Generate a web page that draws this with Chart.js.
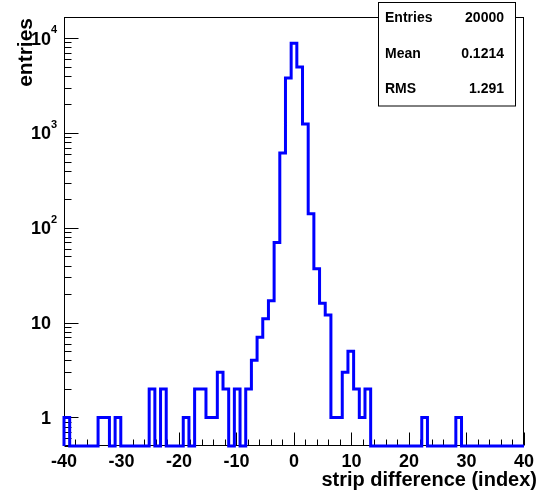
<!DOCTYPE html>
<html><head><meta charset="utf-8">
<script src="https://cdn.jsdelivr.net/npm/chart.js@4/dist/chart.umd.min.js"></script>
<style>html,body{margin:0;padding:0;background:#fff;}#wrap{width:539px;height:493px;}</style>
</head><body><div id="wrap"><canvas id="c" width="539" height="493"></canvas></div>
<script>
// ---- data ----
const binCenters = [-40,-39,-38,-37,-36,-35,-34,-33,-32,-31,-30,-29,-28,-27,-26,-25,-24,-23,-22,-21,-20,-19,-18,-17,-16,-15,-14,-13,-12,-11,-10,-9,-8,-7,-6,-5,-4,-3,-2,-1,0,1,2,3,4,5,6,7,8,9,10,11,12,13,14,15,16,17,18,19,20,21,22,23,24,25,26,27,28,29,30,31,32,33,34,35,36,37,38,39,40];
const counts = [1,0,0,0,0,0,1,1,0,1,0,0,0,0,0,2,0,2,0,0,0,1,0,2,2,1,1,3,2,0,2,0,2,4,7,11,17,70,615,3800,8850,4950,1240,141,37,16,12,1,1,3,5,2,1,2,0,0,0,0,0,0,0,0,0,1,0,0,0,0,0,1,0,0,0,0,0,0,0,0,0,0,0];
const xTickValues = [-40,-30,-20,-10,0,10,20,30,40];
const yTickValues = [1,10,100,1000,10000];
const yTickBase = ['1','10','10','10','10'];
const yTickExp = ['','','2','3','4'];
const statsLabels = ['Entries','Mean','RMS'];
const statsValues = ['20000','0.1214','1.291'];
const xTitle = 'strip difference (index)';
const yTitle = 'entries';

// ---- axis setup ----
const X_MIN = -40, X_MAX = 40;
const Y_MIN = 0.5, Y_MAX = 16700;
const BIN_W = (X_MAX - X_MIN) / binCenters.length;
const FONT = '"Liberation Sans", Arial, Helvetica, sans-serif';

const pts = [];
pts.push({x: (binCenters[0] - 0.5) * BIN_W, y: Y_MIN});
binCenters.forEach((c, i) => {
  const v = counts[i] > 0 ? counts[i] : Y_MIN;
  pts.push({x: (c - 0.5) * BIN_W, y: v});
  pts.push({x: (c + 0.5) * BIN_W, y: v});
});
pts.push({x: (binCenters[binCenters.length - 1] + 0.5) * BIN_W, y: Y_MIN});

const framePlugin = {
  id: 'frame',
  beforeDatasetsDraw(chart) {
    const ctx = chart.ctx, ca = chart.chartArea;
    const xs = chart.scales.x, ys = chart.scales.y;
    ctx.save();
    ctx.strokeStyle = '#000';
    ctx.lineWidth = 1;
    const L = Math.round(ca.left) + 0.5, R = Math.round(ca.right) - 0.5;
    const T = Math.round(ca.top) + 0.5, B = Math.round(ca.bottom) - 0.5;
    ctx.strokeRect(L, T, R - L, B - T);
    ctx.beginPath();
    for (let v = X_MIN; v <= X_MAX; v += 2) {
      const px = Math.round(xs.getPixelForValue(v)) + 0.5;
      const len = xTickValues.includes(v) ? 13 : 6;
      ctx.moveTo(px, B); ctx.lineTo(px, B - len);
    }
    for (let d = 0.1; d <= 10000; d *= 10) {
      for (let m = 1; m <= 9; m++) {
        const v = Math.round(m * d * 10) / 10;
        if (v < Y_MIN || v > Y_MAX) continue;
        const py = Math.round(ys.getPixelForValue(v)) + 0.5;
        const len = yTickValues.includes(v) ? 14 : 7;
        ctx.moveTo(L, py); ctx.lineTo(L + len, py);
      }
    }
    ctx.stroke();
    ctx.restore();
  },
  afterDraw(chart) {
    const ctx = chart.ctx;
    const ys = chart.scales.y;
    ctx.save();
    ctx.fillStyle = '#000';
    yTickValues.forEach((v, i) => {
      const py = ys.getPixelForValue(v);
      ctx.font = 'bold 18px ' + FONT;
      ctx.textAlign = 'right';
      ctx.textBaseline = 'alphabetic';
      ctx.fillText(yTickBase[i], 51, py + 6.5);
      if (yTickExp[i]) {
        ctx.font = 'bold 11px ' + FONT;
        ctx.textAlign = 'left';
        ctx.fillText(yTickExp[i], 51, py - 5);
      }
    });
    ctx.font = 'bold 20px ' + FONT;
    ctx.textAlign = 'right';
    ctx.textBaseline = 'alphabetic';
    ctx.fillText(xTitle, 537, 486);
    ctx.save();
    ctx.translate(31.5, 18);
    ctx.rotate(-Math.PI / 2);
    ctx.font = 'bold 21px ' + FONT;
    ctx.textAlign = 'right';
    ctx.fillText(yTitle, 0, 0);
    ctx.restore();
    // stats box
    ctx.fillStyle = '#fff';
    ctx.fillRect(378.5, 2.5, 137, 103.5);
    ctx.strokeStyle = '#000';
    ctx.lineWidth = 1;
    ctx.strokeRect(378.5, 2.5, 137, 103.5);
    ctx.fillStyle = '#000';
    ctx.font = 'bold 14px ' + FONT;
    const rowY = [22, 57.5, 93];
    statsLabels.forEach((t, i) => {
      ctx.textAlign = 'left';
      ctx.fillText(t, 385, rowY[i]);
      ctx.textAlign = 'right';
      ctx.fillText(statsValues[i], 504, rowY[i]);
    });
    ctx.restore();
  }
};

new Chart(document.getElementById('c').getContext('2d'), {
  type: 'line',
  data: {
    datasets: [{
      data: pts,
      borderColor: '#0000ff',
      borderWidth: 3,
      pointRadius: 0,
      fill: false,
      tension: 0,
      borderJoinStyle: 'miter',
      clip: {left: 2, top: 0, right: 2, bottom: 3}
    }]
  },
  options: {
    responsive: false,
    animation: false,
    devicePixelRatio: 1,
    layout: {padding: {left: 0, right: 11, top: 17, bottom: 0}},
    plugins: {legend: {display: false}, tooltip: {enabled: false}, title: {display: false}},
    scales: {
      x: {
        type: 'linear', min: X_MIN, max: X_MAX,
        afterBuildTicks: s => { s.ticks = xTickValues.map(v => ({value: v})); },
        afterFit: s => { s.height = 47; },
        grid: {display: false, drawTicks: false},
        border: {display: false},
        ticks: {autoSkip: false, maxRotation: 0, padding: 5, color: '#000',
          font: {family: FONT, size: 18, weight: 'bold'},
          callback: v => String(v)}
      },
      y: {
        type: 'logarithmic', min: Y_MIN, max: Y_MAX,
        afterBuildTicks: s => { s.ticks = yTickValues.map(v => ({value: v})); },
        afterFit: s => { s.width = 64; },
        grid: {display: false, drawTicks: false},
        border: {display: false},
        ticks: {display: false}
      }
    }
  },
  plugins: [framePlugin]
});
</script>
</body></html>
